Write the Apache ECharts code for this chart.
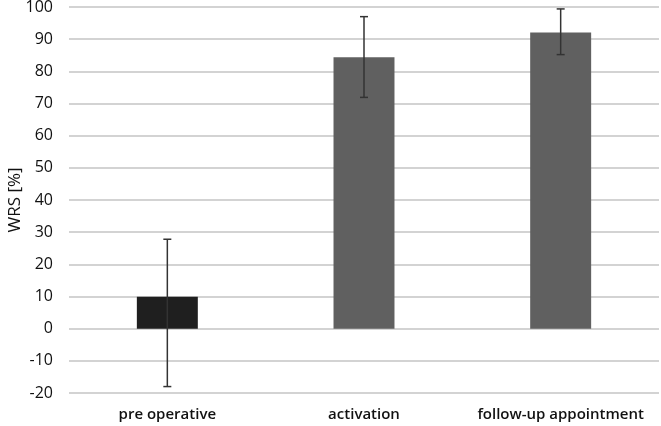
<!DOCTYPE html>
<html>
<head>
<meta charset="utf-8">
<script src="https://cdn.jsdelivr.net/npm/echarts@6/dist/echarts.min.js"></script>
<style>
  html, body { margin: 0; padding: 0; background: #fff; }
  #chart { width: 661px; height: 426px; }
</style>
</head>
<body>
<div id="chart"></div>
<script>
// categories and values
var categories = ['pre operative', 'activation', 'follow-up appointment'];
var means = [9.9, 84.4, 92.1];
var errLow = [-18.0, 71.9, 85.2];
var errHigh = [27.8, 97.0, 99.4];
var barColors = ['#1f1f1f', '#606060', '#606060'];
var yTitle = 'WRS [%]';

var chart = echarts.init(document.getElementById('chart'));

var fontFamily = 'Open Sans, Noto Sans, sans-serif';

chart.setOption({
    animation: false,
    grid: { left: 69, right: 2, top: 7, bottom: 33, containLabel: false, outerBoundsMode: 'none' },
    // y axis title drawn as plain text so it sits where the original has it
    graphic: [{
        type: 'text',
        x: 15,
        y: 200,
        rotation: Math.PI / 2,
        style: {
            text: yTitle,
            fill: '#111',
            font: '17px ' + fontFamily,
            align: 'center',
            verticalAlign: 'middle'
        }
    }],
    xAxis: {
        type: 'category',
        data: categories,
        axisLine: { show: false },
        axisTick: { show: false },
        axisLabel: {
            interval: 0,
            color: '#111',
            fontSize: 15,
            fontWeight: 600,
            fontFamily: fontFamily,
            margin: 14
        }
    },
    yAxis: {
        type: 'value',
        min: -20,
        max: 100,
        interval: 10,
        axisLine: { show: false },
        axisTick: { show: false },
        axisLabel: { color: '#111', fontSize: 16, fontWeight: 500, fontFamily: fontFamily, margin: 16 },
        splitLine: { lineStyle: { color: '#c4c4c4', width: 1.5 } }
    },
    series: [
        {
            type: 'bar',
            barWidth: '31%',
            data: means.map(function (v, i) {
                return { value: v, itemStyle: { color: barColors[i] } };
            })
        },
        {
            type: 'custom',
            z: 10,
            data: categories.map(function (c, i) { return [i, errLow[i], errHigh[i]]; }),
            renderItem: function (params, api) {
                var lo = api.coord([api.value(0), api.value(1)]);
                var hi = api.coord([api.value(0), api.value(2)]);
                var half = 4;
                var style = { stroke: '#333', lineWidth: 1.5 };
                return {
                    type: 'group',
                    children: [
                        { type: 'line', shape: { x1: lo[0], y1: lo[1], x2: hi[0], y2: hi[1] }, style: style },
                        { type: 'line', shape: { x1: lo[0] - half, y1: lo[1], x2: lo[0] + half, y2: lo[1] }, style: style },
                        { type: 'line', shape: { x1: hi[0] - half, y1: hi[1], x2: hi[0] + half, y2: hi[1] }, style: style }
                    ]
                };
            }
        }
    ]
});
</script>
</body>
</html>
